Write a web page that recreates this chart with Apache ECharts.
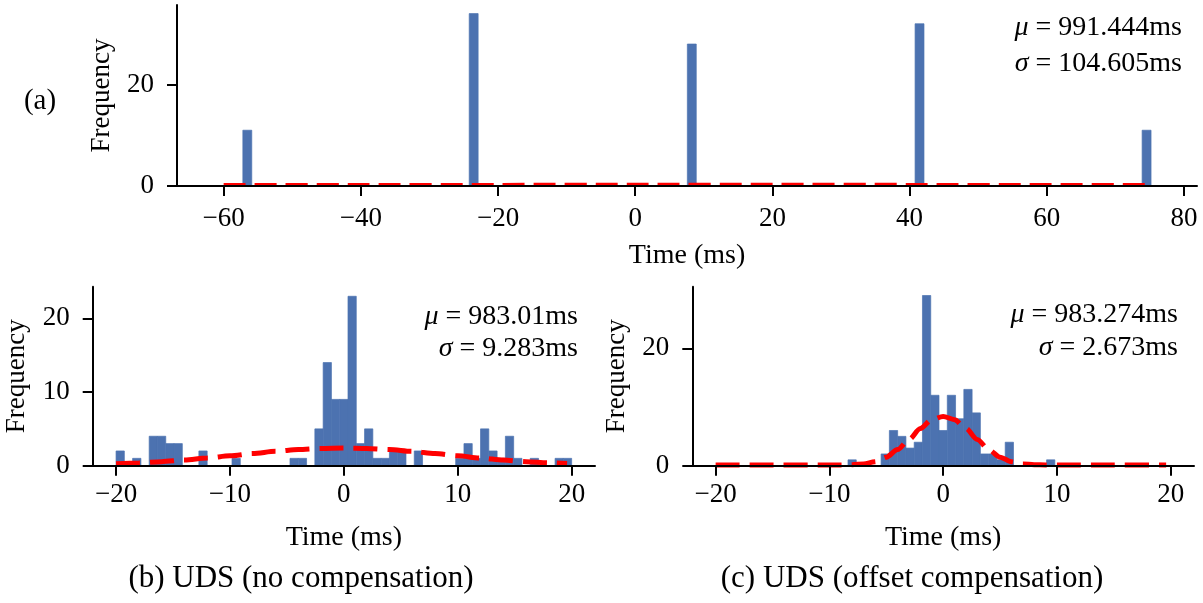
<!DOCTYPE html>
<html><head><meta charset="utf-8">
<script src="https://cdn.jsdelivr.net/npm/echarts@6/dist/echarts.min.js"></script>
<style>html,body{margin:0;padding:0;background:#fff}#c{width:1203px;height:603px}</style>
</head><body><div id="c"></div>
<script>
// ---------- data ----------
// panel (a)
const aBinLeft = [-57.2, -24.2, 7.6, 40.8, 73.9];
const aBinWidth = 1.3;
const aCounts = [11, 34, 28, 32, 11];
const aCurveX = [-60, -40, -20, 0, 20, 40, 60, 75];
const aCurveY = [0.3, 0.32, 0.34, 0.35, 0.35, 0.34, 0.32, 0.3];
const aTicksX = [-60, -40, -20, 0, 20, 40, 60, 80];
const aTicksY = [0, 20];
// panels (b) and (c): 55 bins from -20 to 20
const bcBinStart = -20;
const bcBinEnd = 20;
const bcBinN = 55;
const bCounts = [2,0,1,0,4,4,3,3,0,0, 2,0,0,0,1,0,0,0,0,0, 0,1,1,0,5,14,9,9,23,3, 5,1,1,2,2,0,2,0,0,0, 0,1,3,1,5,2,1,4,1,0, 1,0,0,1,1];
const cCounts = [0,0,0,0,0,0,0,0,0,0, 0,0,0,0,0,0,1,0,0,0, 2,6,5,3,4,29,12,6,12,8, 13,9,2,2,1,4,0,0,0,0, 1,0,0,0,0,0,0,0,0,0, 0,0,0,0,0];
const bCurveX = [-20,-18,-16,-14,-12,-10,-8,-6,-4,-2,0,2,4,6,8,10,12,14,16,18,19.6];
const bCurveY = [0.26,0.38,0.55,0.77,1.04,1.34,1.65,1.95,2.2,2.35,2.4,2.35,2.2,1.95,1.65,1.34,1.04,0.77,0.55,0.38,0.3];
const cCurveX = [-20,-15,-10,-9,-8,-7,-6,-5,-4,-3,-2,-1,0,1,2,3,4,5,6,7,8,9,10,15,19.6];
const cCurveY = [0.12,0.12,0.12,0.13,0.16,0.3,0.67,1.46,2.74,4.48,6.35,7.85,8.4,7.85,6.35,4.48,2.74,1.46,0.67,0.3,0.16,0.13,0.12,0.12,0.12];
const bcTicksX = [-20, -10, 0, 10, 20];
const bTicksY = [0, 10, 20];
const cTicksY = [0, 20];

const FONT = 'Liberation Serif';
const BLUE = '#4c72b0';
const fmt = v => (v < 0 ? '\u2212' + Math.abs(v) : String(v));

function histSeries(idx, lefts, width, counts) {
  const data = [];
  counts.forEach((c, i) => { if (c > 0) data.push([lefts[i], lefts[i] + width, c]); });
  return {
    type: 'custom', xAxisIndex: idx, yAxisIndex: idx, data: data, z: 2,
    encode: { x: [0, 1], y: 2 },
    renderItem: function (params, api) {
      const p0 = api.coord([api.value(0), api.value(2)]);
      const p1 = api.coord([api.value(1), 0]);
      return { type: 'rect', shape: { x: p0[0], y: p0[1], width: p1[0] - p0[0], height: p1[1] - p0[1] },
        style: { fill: BLUE, stroke: BLUE, lineWidth: 0.7 } };
    }
  };
}
function curveSeries(idx, xs, ys, w, dash) {
  return {
    type: 'line', xAxisIndex: idx, yAxisIndex: idx, z: 3,
    data: xs.map((x, i) => [x, ys[i]]), showSymbol: false, symbol: 'none',
    smooth: 0.3, smoothMonotone: 'x',
    lineStyle: { color: '#ff0000', width: w, type: dash, cap: 'butt' }
  };
}
function xAx(gi, min, max, ticks, margin, nameGap) {
  return {
    type: 'value', gridIndex: gi, min: min, max: max, z: 5,
    axisLine: { show: true, onZero: false, lineStyle: { color: '#000', width: 2 } },
    axisTick: { show: true, length: 10, customValues: ticks, lineStyle: { color: '#000', width: 2 } },
    axisLabel: { customValues: ticks, margin: margin, fontFamily: FONT, fontSize: 27, color: '#000', formatter: fmt },
    splitLine: { show: false },
    name: 'Time (ms)', nameLocation: 'middle', nameGap: nameGap,
    nameTextStyle: { fontFamily: FONT, fontSize: 28, color: '#000' }
  };
}
function yAx(gi, max, ticks) {
  return {
    type: 'value', gridIndex: gi, min: 0, max: max, z: 5,
    axisLine: { show: true, onZero: false, lineStyle: { color: '#000', width: 2 } },
    axisTick: { show: true, length: 10, customValues: ticks, lineStyle: { color: '#000', width: 2 } },
    axisLabel: { customValues: ticks, margin: 23, fontFamily: FONT, fontSize: 27, color: '#000', formatter: fmt },
    splitLine: { show: false },
    name: 'Frequency', nameLocation: 'middle', nameRotate: 90, nameGap: 62,
    nameTextStyle: { fontFamily: FONT, fontSize: 27, color: '#000' }
  };
}
function txt(x, y, text, size, align, rich) {
  return {
    type: 'text', silent: true,
    style: { text: text, x: x, y: y, fontFamily: FONT, fontSize: size, fill: '#000',
      align: align, textAlign: align, verticalAlign: 'middle', textVerticalAlign: 'middle',
      rich: rich }
  };
}
const ital = { i: { fontStyle: 'italic', fontFamily: FONT, fontSize: 28, fill: '#000' } };

const bcW = (bcBinEnd - bcBinStart) / bcBinN;
const bcLefts = bCounts.map((_, i) => bcBinStart + i * bcW);

const chart = echarts.init(document.getElementById('c'), null, { renderer: 'canvas' });
chart.setOption({
  animation: false,
  backgroundColor: '#fff',
  grid: [
    { left: 177, top: 5, width: 1020, height: 181 },
    { left: 92.7, top: 286.7, width: 502.3, height: 179 },
    { left: 692.3, top: 286.7, width: 501.7, height: 179 }
  ],
  xAxis: [
    xAx(0, -66.8, 81.9, aTicksX, 19, 56),
    xAx(1, -22.05, 22.05, bcTicksX, 16, 58),
    xAx(2, -22.05, 22.05, bcTicksX, 16, 58)
  ],
  yAxis: [
    yAx(0, 35.7, aTicksY),
    yAx(1, 24.3, bTicksY),
    yAx(2, 30.5, cTicksY)
  ],
  series: [
    histSeries(0, aBinLeft, aBinWidth, aCounts),
    curveSeries(0, aCurveX, aCurveY, 2.8, [22, 9]),
    histSeries(1, bcLefts, bcW, bCounts),
    curveSeries(1, bCurveX, bCurveY, 5, [24, 10]),
    histSeries(2, bcLefts, bcW, cCounts),
    curveSeries(2, cCurveX, cCurveY, 5, [24, 10])
  ],
  graphic: [
    txt(40, 101, '(a)', 29, 'center'),
    txt(1182, 28, '{i|\u03bc} = 991.444ms', 28, 'right', ital),
    txt(1182, 64, '{i|\u03c3} = 104.605ms', 28, 'right', ital),
    txt(578, 317, '{i|\u03bc} = 983.01ms', 28, 'right', ital),
    txt(578, 349, '{i|\u03c3} = 9.283ms', 28, 'right', ital),
    txt(1178, 315, '{i|\u03bc} = 983.274ms', 28, 'right', ital),
    txt(1178, 348, '{i|\u03c3} = 2.673ms', 28, 'right', ital),
    txt(301, 579, '(b) UDS (no compensation)', 31, 'center'),
    txt(912, 579, '(c) UDS (offset compensation)', 31, 'center')
  ]
});
</script></body></html>
